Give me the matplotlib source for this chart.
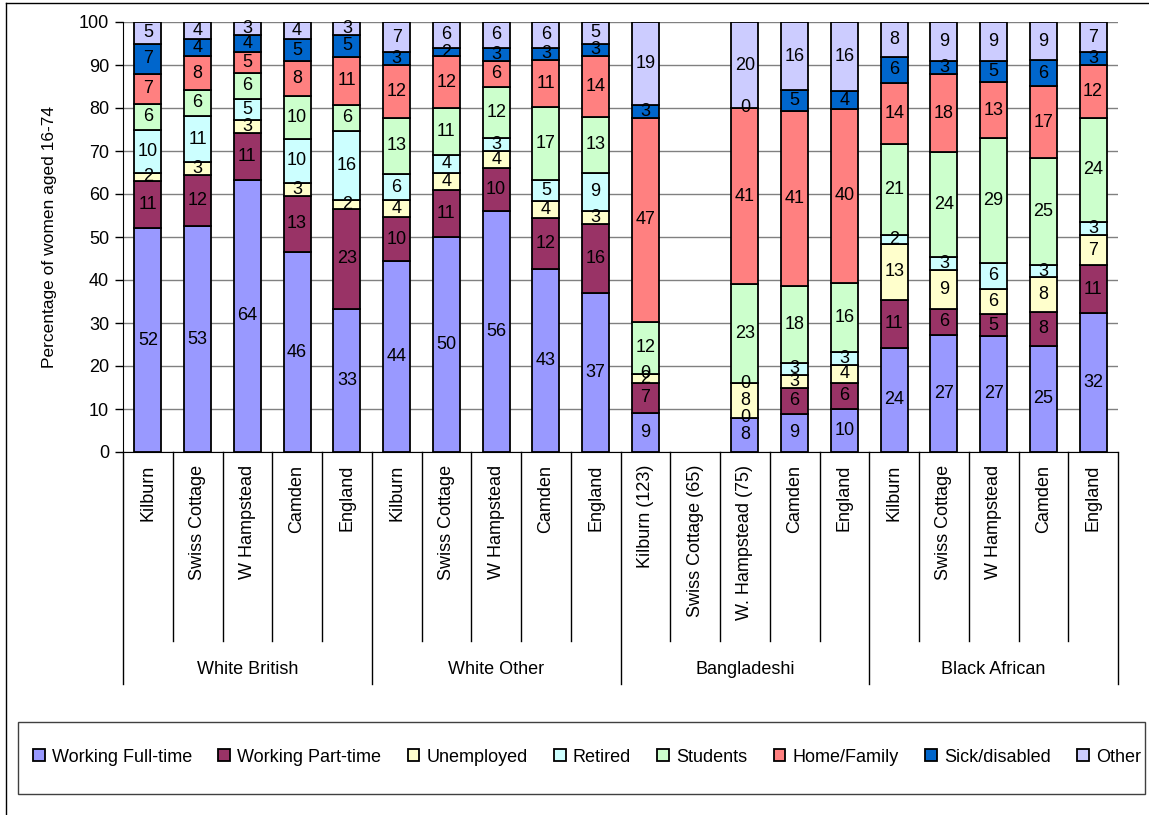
import numpy as np
import matplotlib.pyplot as plt
import matplotlib.transforms as mtransforms
from matplotlib.patches import Rectangle
from matplotlib.lines import Line2D

plt.rcParams['font.family'] = ['Liberation Sans', 'DejaVu Sans']

nan = np.nan

# areas within each ethnic group
areas = ['Kilburn', 'Swiss Cottage', 'W Hampstead', 'Camden', 'England',
         'Kilburn', 'Swiss Cottage', 'W Hampstead', 'Camden', 'England',
         'Kilburn (123)', 'Swiss Cottage (65)', 'W. Hampstead (75)', 'Camden', 'England',
         'Kilburn', 'Swiss Cottage', 'W Hampstead', 'Camden', 'England']
groups = ['White British', 'White Other', 'Bangladeshi', 'Black African']

# economic activity, % of women aged 16-74 (Swiss Cottage Bangladeshi not shown)
full_time  = [52, 53, 64, 46, 33, 44, 50, 56, 43, 37, 9, nan, 8, 9, 10, 24, 27, 27, 25, 32]
part_time  = [11, 12, 11, 13, 23, 10, 11, 10, 12, 16, 7, nan, 0, 6, 6, 11, 6, 5, 8, 11]
unemployed = [2, 3, 3, 3, 2, 4, 4, 4, 4, 3, 2, nan, 8, 3, 4, 13, 9, 6, 8, 7]
retired    = [10, 11, 5, 10, 16, 6, 4, 3, 5, 9, 0, nan, 0, 3, 3, 2, 3, 6, 3, 3]
students   = [6, 6, 6, 10, 6, 13, 11, 12, 17, 13, 12, nan, 23, 18, 16, 21, 24, 29, 25, 24]
home       = [7, 8, 5, 8, 11, 12, 12, 6, 11, 14, 47, nan, 41, 41, 40, 14, 18, 13, 17, 12]
sick       = [7, 4, 4, 5, 5, 3, 2, 3, 3, 3, 3, nan, 0, 5, 4, 6, 3, 5, 6, 3]
other      = [5, 4, 3, 4, 3, 7, 6, 6, 6, 5, 19, nan, 20, 16, 16, 8, 9, 9, 9, 7]

series = [('Working Full-time', full_time, '#9999FF'),
          ('Working Part-time', part_time, '#993366'),
          ('Unemployed', unemployed, '#FFFFCC'),
          ('Retired', retired, '#CCFFFF'),
          ('Students', students, '#CCFFCC'),
          ('Home/Family', home, '#FF8080'),
          ('Sick/disabled', sick, '#0066CC'),
          ('Other', other, '#CCCCFF')]

W, H = 1149, 815
fig = plt.figure(figsize=(W / 100, H / 100), dpi=100)
ax = fig.add_axes([123 / W, 1 - 452 / H, 995 / W, 430 / H])

x = np.arange(len(areas))
has_data = ~np.isnan(np.array(full_time, dtype=float))
totals = np.nansum([np.array(s[1], dtype=float) for s in series], axis=0)
totals[totals == 0] = 1
bottom = np.zeros(len(areas))
handles = []
for name, vals, color in series:
    vals = np.array(vals, dtype=float)
    h = np.nan_to_num(vals) / totals * 100  # 100% stacked
    b = ax.bar(x[has_data], h[has_data], 0.54, bottom=bottom[has_data], color=color,
               edgecolor='black', linewidth=1.3, label=name, zorder=3)
    handles.append(b)
    for i, v in enumerate(vals):
        if np.isnan(v):
            continue
        ax.text(x[i], bottom[i] + h[i] / 2, f'{int(v)}', ha='center', va='center',
                fontsize=13, zorder=4)
    bottom += h

ax.set_xlim(-0.5, len(areas) - 0.5)
ax.set_ylim(0, 100)
ax.set_yticks(np.arange(0, 101, 10))
ax.set_xticks([])
ax.tick_params(axis='y', length=6, width=1, labelsize=13, pad=4)
ax.yaxis.grid(True, color='#808080', linewidth=1)
ax.set_axisbelow(True)
for side in ['top', 'right']:
    ax.spines[side].set_visible(False)
ax.spines['left'].set_color('black')
ax.spines['bottom'].set_color('black')

fig.text(50 / W, 1 - 237 / H, 'Percentage of women aged 16-74', rotation=90,
         ha='center', va='center', fontsize=12.5)

# two-level category axis below the plot
trans = mtransforms.blended_transform_factory(ax.transData, ax.transAxes)
for i, name in enumerate(areas):
    ax.text(i, -0.03, name, transform=trans, rotation=90, ha='center', va='top',
            fontsize=13)
for k in range(len(areas) + 1):
    bx = k - 0.5
    depth = -0.5395 if k % 5 == 0 else -0.4395
    ax.add_line(Line2D([bx, bx], [0, depth], transform=trans, color='black',
                       linewidth=1, clip_on=False))
for g, name in enumerate(groups):
    ax.text(g * 5 + 2, -0.505, name, transform=trans, ha='center', va='center',
            fontsize=13)

# legend in its own box
fig.add_artist(Rectangle((18 / W, 1 - 794 / H), 1127 / W, 72 / H, fill=False,
                         edgecolor='#404040', linewidth=1, transform=fig.transFigure))
fig.legend(handles=handles, loc='center', bbox_to_anchor=(587 / W, 1 - 757 / H),
           ncol=8, frameon=False, fontsize=13, handlelength=0.65, handleheight=0.65,
           handletextpad=0.4, columnspacing=1.45)

# outer chart border
fig.add_artist(Line2D([6 / W, 6 / W], [0, 1 - 3 / H], color='black', linewidth=1))
fig.add_artist(Line2D([6 / W, 1], [1 - 3 / H, 1 - 3 / H], color='black', linewidth=1))

fig.savefig('out.png', dpi=100)
